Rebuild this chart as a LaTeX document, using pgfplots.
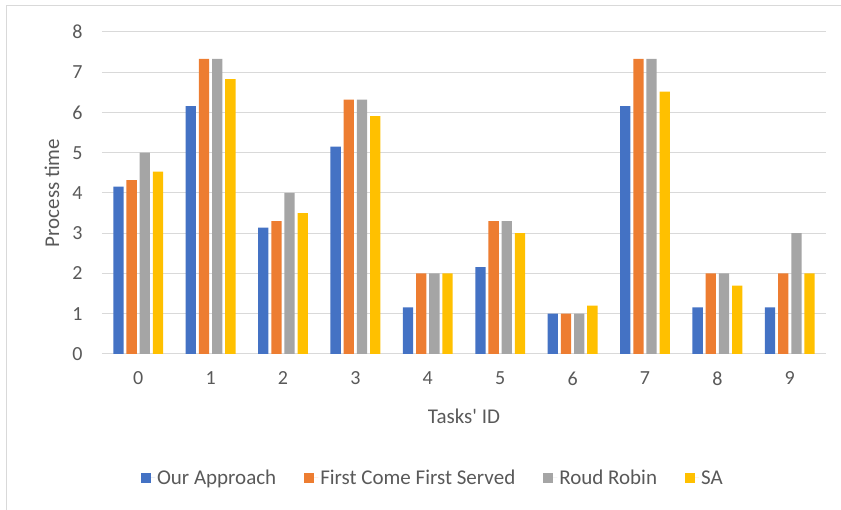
\documentclass[border=0pt]{standalone}
\usepackage{pgfplots}
\pgfplotsset{compat=1.18}
\usepackage{fontspec}
\setmainfont{Carlito}
\definecolor{cBlue}{HTML}{4472C4}
\definecolor{cOrange}{HTML}{ED7D31}
\definecolor{cGray}{HTML}{A5A5A5}
\definecolor{cYellow}{HTML}{FFC000}
\definecolor{gridc}{HTML}{D9D9D9}
\definecolor{textc}{HTML}{595959}
\definecolor{borderc}{HTML}{D9D9D9}
\begin{document}
\begin{tikzpicture}
\begin{axis}[
  scale only axis,
  width=724pt, height=322pt,
  xmin=-0.5, xmax=9.5, ymin=0, ymax=8,
  xtick={0,1,2,3,4,5,6,7,8,9},
  ytick={0,1,2,3,4,5,6,7,8},
  axis line style={draw=none},
  major tick length=0pt,
  ymajorgrids,
  grid style={draw=gridc, line width=1pt},
  /pgf/number format/assume math mode=true,
  tick label style={color=textc, font=\fontsize{20}{24}\selectfont},
  yticklabel style={xshift=-16pt},
  xticklabel style={yshift=-14pt},
  xlabel={Tasks\textquotesingle{} ID},
  ylabel={Process time},
  label style={color=textc, font=\fontsize{21}{25}\selectfont},
  x label style={at={(axis description cs:0.5,-0.193)}, anchor=center},
  y label style={at={(axis description cs:-0.069,0.5)}, anchor=center},
  ybar, bar width=0.142,
  legend style={at={(axis description cs:0.457,-0.385)}, anchor=center,
    draw=none, fill=none, legend columns=4,
    font=\fontsize{21}{25}\selectfont, text=textc,
    /tikz/every even column/.append style={column sep=26pt}},
  legend image code/.code={\fill[#1] (0pt,-5pt) rectangle (10pt,5pt); \path (0pt,0pt) -- (14pt,0pt);},
]
\addplot[fill=cBlue, draw=none, bar shift=-0.273] coordinates {
 (0,4.16) (1,6.16) (2,3.14) (3,5.15) (4,1.16) (5,2.16) (6,1) (7,6.16) (8,1.16) (9,1.16)};
\addplot[fill=cOrange, draw=none, bar shift=-0.091] coordinates {
 (0,4.32) (1,7.33) (2,3.3) (3,6.32) (4,2) (5,3.3) (6,1) (7,7.33) (8,2) (9,2)};
\addplot[fill=cGray, draw=none, bar shift=0.091] coordinates {
 (0,5) (1,7.33) (2,4) (3,6.32) (4,2) (5,3.3) (6,1) (7,7.33) (8,2) (9,3)};
\addplot[fill=cYellow, draw=none, bar shift=0.273] coordinates {
 (0,4.53) (1,6.83) (2,3.5) (3,5.91) (4,2) (5,3) (6,1.2) (7,6.52) (8,1.7) (9,2)};
\legend{Our Approach, First Come First Served, Roud Robin, SA}
\end{axis}
\draw[borderc, line width=1pt] (-95pt,-156pt) -- (-95pt,348pt) -- (739pt,348pt);
\pgfresetboundingbox
\useasboundingbox (-102pt,-156pt) rectangle (739pt,354pt);
\end{tikzpicture}
\end{document}
